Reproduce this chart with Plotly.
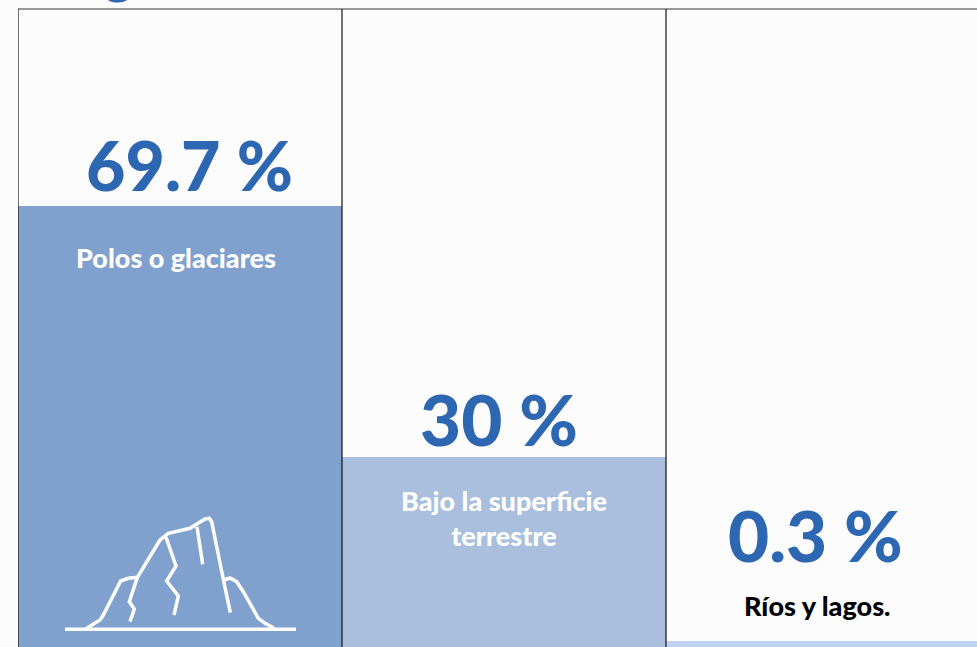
import plotly.graph_objects as go

# Chart data
categories = ["Polos o glaciares", "Bajo la superficie terrestre", "Ríos y lagos."]
shares = [69.7, 30, 0.3]
bar_heights = [69.7, 30, 0.9]  # as drawn in the picture
value_labels = ["69.7 %", "30 %", "0.3 %"]
category_labels = ["Polos o glaciares", "Bajo la superficie<br>terrestre", "Ríos y lagos."]
bar_colors = ["#80A1CD", "#A9BFDD", "#BFD2F5"]
label_colors = ["#FFFFFF", "#FFFFFF", "#000000"]
BLUE = "#2E67B1"

# Page geometry (pixels)
W, H = 977, 647
LEFT, TOP = 18, 9
COL = 324
ZERO_PX = 646.6
PX_PER_UNIT = 6.32

# Iceberg icon strokes (icon units: 3 units = 1 px)
icon_strokes = [
    ([45, 738], [388, 388]),
    ([108, 150, 160, 212, 235, 262, 330, 355, 420, 440, 465, 478, 485, 520, 541],
     [386, 360, 345, 243, 235, 232, 120, 100, 85, 72, 57, 55, 65, 238, 338]),
    ([522, 540, 560, 580, 625, 645, 672], [240, 234, 245, 275, 355, 370, 384]),
    ([262, 238, 253, 240], [232, 305, 327, 365]),
    ([348, 378, 350, 385, 372], [112, 198, 243, 288, 345]),
    ([441, 458], [80, 193]),
]

value_px = [(189.5, 164), (499, 418), (815.5, 534)]
value_sizes = [68, 71, 71]
label_px = [(175.5, 257), (503.5, 482), (817.5, 605)]

fig = go.Figure()
fig.add_trace(go.Bar(
    x=[0, 1, 2], y=bar_heights, width=1,
    marker=dict(color=bar_colors, line_width=0),
    customdata=shares, hoverinfo="skip", showlegend=False,
))

for xs, ys in icon_strokes:
    fig.add_trace(go.Scatter(
        x=xs, y=ys, mode="lines", xaxis="x2", yaxis="y2", showlegend=False,
        line=dict(color="white", width=3.5), hoverinfo="skip",
    ))

annotations = []
for text, size, (px, py) in zip(value_labels, value_sizes, value_px):
    annotations.append(dict(
        text=text, x=(px - LEFT) / (W - LEFT), y=(H - py) / (H - TOP),
        xref="paper", yref="paper", showarrow=False, xanchor="center", yanchor="middle",
        font=dict(family="Lato", size=size, color=BLUE, weight=900),
    ))
for text, color, (px, py) in zip(category_labels, label_colors, label_px):
    annotations.append(dict(
        text=text, x=(px - LEFT) / (W - LEFT), y=(H - py) / (H - TOP),
        xref="paper", yref="paper", showarrow=False, xanchor="center",
        yanchor="top" if "<br>" in text else "middle",
        align="center",
        font=dict(family="Lato", size=27, color=color, weight=900),
    ))
# descender of the cropped title above the chart
annotations.append(dict(
    text="g", x=(118 - LEFT) / (W - LEFT), y=1,
    xref="paper", yref="paper", yanchor="bottom", xanchor="center", yshift=2, showarrow=False,
    font=dict(family="Lato", size=54, color=BLUE, weight=900),
))

fig.update_layout(
    width=W, height=H, autosize=False,
    margin=dict(l=LEFT, r=0, t=TOP, b=0),
    paper_bgcolor="#FCFCFC", plot_bgcolor="#FCFCFC",
    bargap=0, showlegend=False, annotations=annotations,
    xaxis=dict(range=[-0.5, -0.5 + (W - LEFT) / COL], visible=False, fixedrange=True),
    yaxis=dict(range=[(ZERO_PX - H) / PX_PER_UNIT, (ZERO_PX - TOP) / PX_PER_UNIT],
               visible=False, fixedrange=True),
    xaxis2=dict(range=[(LEFT - 50) * 3, (W - 50) * 3], overlaying="x", visible=False, fixedrange=True),
    yaxis2=dict(range=[(H - 500) * 3, (TOP - 500) * 3], overlaying="y", visible=False, fixedrange=True),
    shapes=[
        dict(type="line", xref="paper", yref="paper", x0=0, x1=1, y0=1, y1=1,
             line=dict(color="#333333", width=1)),
    ] + [
        dict(type="line", xref="x", yref="paper", x0=i - 0.5, x1=i - 0.5, y0=0, y1=1,
             layer="above", line=dict(color="#111111", width=1.2))
        for i in range(3)
    ],
)
fig.write_html(
    "out.html",
    config={"displayModeBar": False},
    post_script="document.body.style.margin='0';document.body.style.background='#FCFCFC';document.body.style.overflow='hidden';",
)
